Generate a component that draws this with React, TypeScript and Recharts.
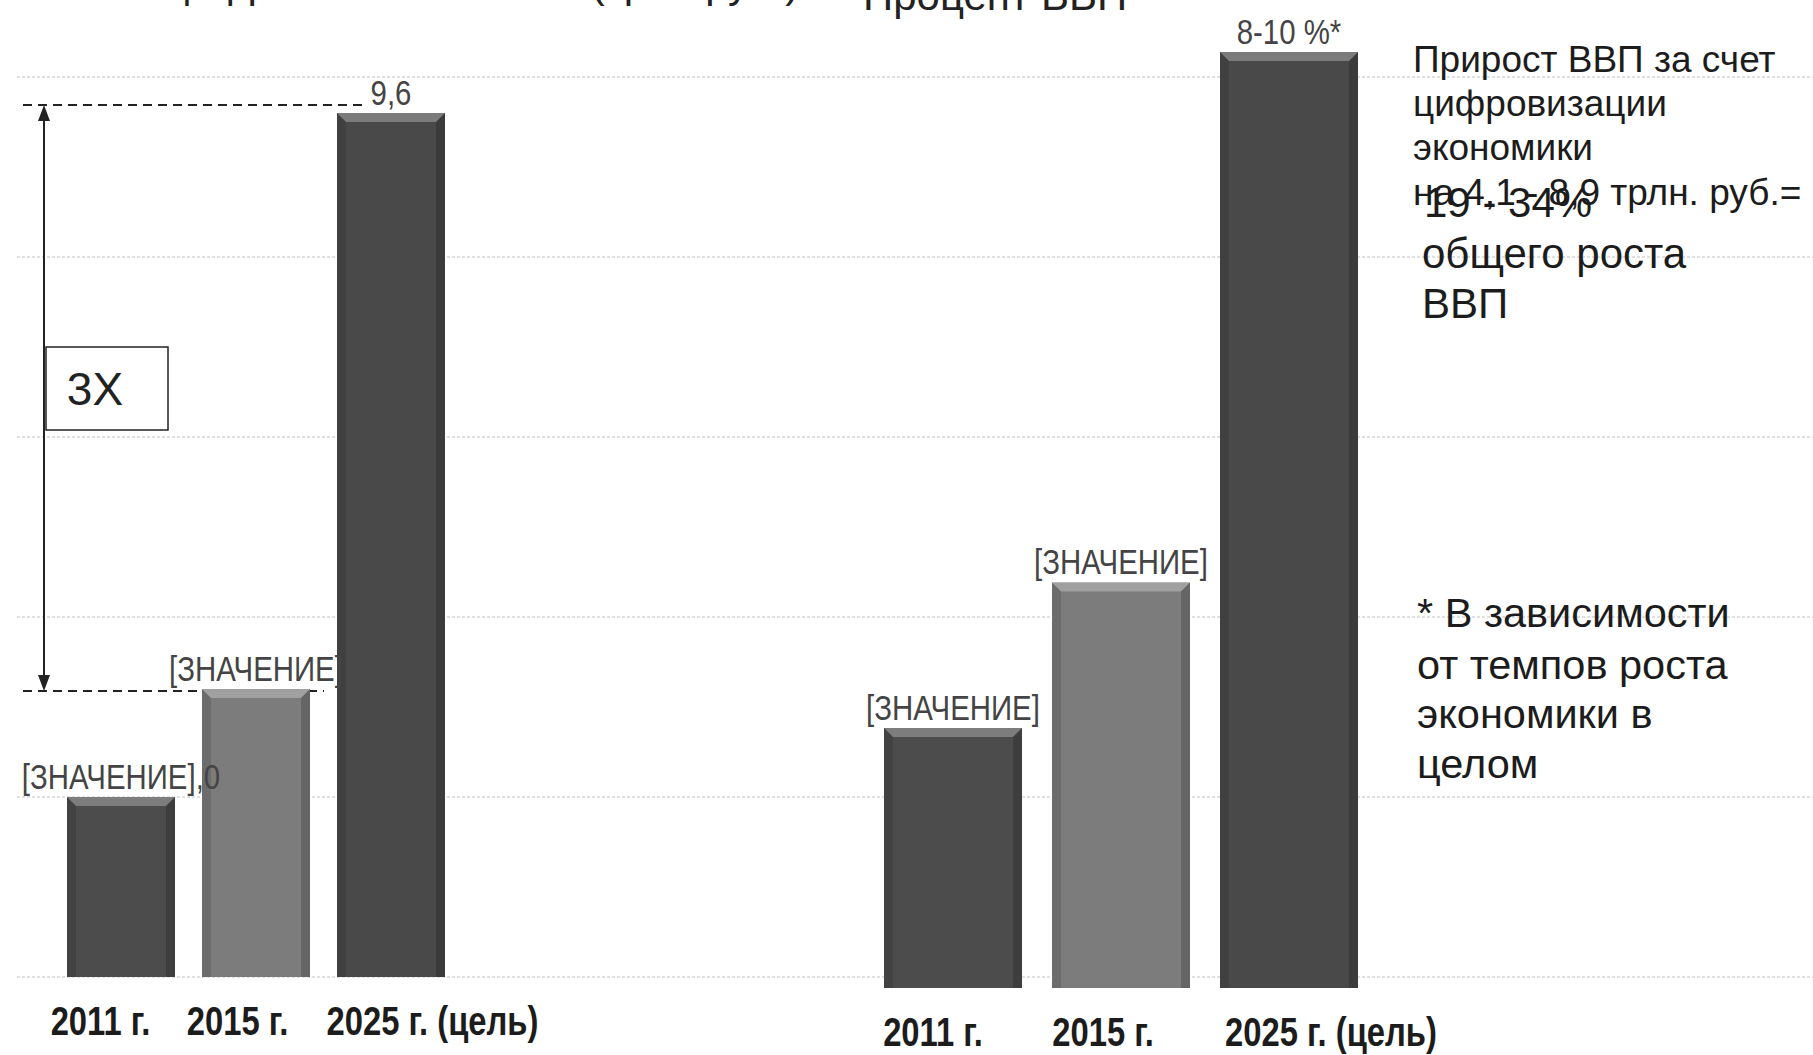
import React from "react";
import {
  BarChart,
  Bar,
  XAxis,
  YAxis,
  CartesianGrid,
  Cell,
  LabelList,
  ReferenceArea,
} from "recharts";

const categories = ["2011 г.", "2015 г.", "2025 г. (цель)"];
const volumeTrln = [2.0, 3.2, 9.6];
const volumeLabels = ["[ЗНАЧЕНИЕ],0", "[ЗНАЧЕНИЕ]", "9,6"];
const gdpShare = [2.5, 3.9, 9.0];
const gdpShareLabels = ["[ЗНАЧЕНИЕ]", "[ЗНАЧЕНИЕ]", "8-10 %*"];
const volumeTicks = [0, 2, 4, 6, 8, 10];
const barColors = ["#4c4c4c", "#7c7c7c", "#494949"];
// the year labels sit a bit apart from the bar centres in the original
const tickShift = [-20, -18, 42];

const W = 1813;
const H = 1055;
const FONT = "'Liberation Sans', Arial, sans-serif";

const volumeData = categories.map((name, i) => ({
  name,
  value: volumeTrln[i],
  label: volumeLabels[i],
}));
const shareData = categories.map((name, i) => ({
  name,
  value: gdpShare[i],
  label: gdpShareLabels[i],
}));

// bar with a light bevel on top, like the old office 3d style
const BevelBar = (props: any) => {
  const { x, y, width, height, fill } = props;
  if (!height) return null;
  const b = 9;
  return (
    <g>
      <rect x={x} y={y} width={width} height={height} fill={fill} />
      <polygon
        points={`${x},${y} ${x + width},${y} ${x + width - b},${y + b} ${x + b},${y + b}`}
        fill="#ffffff"
        opacity={0.28}
      />
      <polygon
        points={`${x},${y} ${x + b},${y + b} ${x + b},${y + height} ${x},${y + height}`}
        fill="#000"
        opacity={0.12}
      />
      <polygon
        points={`${x + width},${y} ${x + width - b},${y + b} ${x + width - b},${y + height} ${x + width},${y + height}`}
        fill="#000"
        opacity={0.18}
      />
    </g>
  );
};

const YearTick = (props: any) => {
  const { x, y, payload, index } = props;
  const dx = tickShift[index] ?? 0;
  return (
    <g transform={`translate(${x + dx},${y + 58})`}>
      <text
        transform="scale(0.82,1)"
        textAnchor="middle"
        fontFamily={FONT}
        fontWeight="bold"
        fontSize={40}
        fill="#1c1c1c"
      >
        {payload.value}
      </text>
    </g>
  );
};

const valueLabel = (offset: number) => (props: any) => {
  const { x, y, width, value } = props;
  return (
    <g transform={`translate(${x + width / 2},${y - offset})`}>
      <text
        transform="scale(0.84,1)"
        textAnchor="middle"
        fontFamily={FONT}
        fontSize={35}
        fill="#444"
      >
        {value}
      </text>
    </g>
  );
};

// dashed guides, double arrow and the "3X" box between 2015 and 2025 levels
const GrowthMarker = (props: any) => {
  const { x, y, height } = props;
  const top = y - 8;
  const bottom = y + height + 2;
  const ax = x - 9;
  return (
    <g>
      <line x1={x - 30} y1={top} x2={x + 311} y2={top} stroke="#222" strokeWidth={2} strokeDasharray="9 6" />
      <line x1={x - 30} y1={bottom} x2={x + 271} y2={bottom} stroke="#222" strokeWidth={2} strokeDasharray="9 6" />
      <line x1={ax} y1={top + 12} x2={ax} y2={bottom - 12} stroke="#222" strokeWidth={2} />
      <polygon points={`${ax},${top} ${ax - 6},${top + 16} ${ax + 6},${top + 16}`} fill="#222" />
      <polygon points={`${ax},${bottom} ${ax - 6},${bottom - 16} ${ax + 6},${bottom - 16}`} fill="#222" />
      <rect x={x - 7} y={y + 234} width={122} height={83} fill="#fff" stroke="#222" strokeWidth={1.5} />
      <text x={x + 42} y={y + 292} textAnchor="middle" fontFamily={FONT} fontSize={46} fill="#222">
        3X
      </text>
    </g>
  );
};

export default function App() {
  return (
    <div
      style={{
        position: "absolute",
        left: 0,
        top: 0,
        width: W,
        height: H,
        background: "#fff",
        overflow: "hidden",
      }}
    >
      <div style={{ position: "absolute", left: 0, top: 0 }}>
        <BarChart
          width={W}
          height={H}
          data={volumeData}
          margin={{ top: 77, right: 1355, bottom: 0, left: 53 }}
        >
          <CartesianGrid
            vertical={false}
            horizontal={(p: any) => (
              <line
                key={`g-${p.index}`}
                x1={17}
                x2={W}
                y1={p.y1}
                y2={p.y2}
                stroke="#d6d6d6"
                strokeWidth={1.5}
                strokeDasharray="3 2"
              />
            )}
          />
          <XAxis
            dataKey="name"
            axisLine={false}
            tickLine={false}
            tickSize={0}
            tickMargin={0}
            height={78}
            tick={<YearTick />}
            interval={0}
          />
          <YAxis hide domain={[0, 10]} ticks={volumeTicks} />
          <ReferenceArea y1={volumeTrln[1]} y2={volumeTrln[2]} ifOverflow="visible" shape={GrowthMarker} />
          <Bar dataKey="value" barSize={108} shape={BevelBar} isAnimationActive={false}>
            {volumeData.map((d, i) => (
              <Cell key={d.name} fill={barColors[i]} />
            ))}
            <LabelList dataKey="label" content={valueLabel(8)} />
          </Bar>
        </BarChart>
      </div>

      <div style={{ position: "absolute", left: 0, top: 0 }}>
        <BarChart
          width={W}
          height={H}
          data={shareData}
          margin={{ top: 0, right: 440, bottom: 0, left: 869 }}
        >
          <XAxis
            dataKey="name"
            axisLine={false}
            tickLine={false}
            tickSize={0}
            tickMargin={0}
            height={67}
            tick={<YearTick />}
            interval={0}
          />
          <YAxis hide domain={[0, 9.5]} />
          <Bar dataKey="value" barSize={138} shape={BevelBar} isAnimationActive={false}>
            {shareData.map((d, i) => (
              <Cell key={d.name} fill={barColors[i]} />
            ))}
            <LabelList dataKey="label" content={valueLabel(8)} />
          </Bar>
        </BarChart>
      </div>

      <svg
        width={W}
        height={H}
        style={{ position: "absolute", left: 0, top: 0, pointerEvents: "none" }}
        fontFamily={FONT}
      >
        <text x={20} y={-3} fontSize={42} fill="#222">
          Объем цифровой экономики (трлн руб.)
        </text>
        <text x={863} y={10} fontSize={42} fill="#222">
          Процент ВВП
        </text>
        <g fontSize={37} fill="#1c1c1c">
          <text x={1413} y={72}>Прирост ВВП за счет</text>
          <text x={1413} y={116}>цифровизации</text>
          <text x={1413} y={160}>экономики</text>
          <text x={1413} y={205}>на 4,1 - 8,9 трлн. руб.=</text>
        </g>
        <g fontSize={42} fill="#1c1c1c">
          <text x={1424} y={217}>19 - 34%</text>
          <text x={1422} y={268}>общего роста</text>
          <text x={1422} y={318}>ВВП</text>
        </g>
        <g fontSize={41.5} fill="#1c1c1c">
          <text x={1417} y={627}>* В зависимости</text>
          <text x={1417} y={679}>от темпов роста</text>
          <text x={1417} y={728}>экономики в</text>
          <text x={1417} y={778}>целом</text>
        </g>
      </svg>
    </div>
  );
}
